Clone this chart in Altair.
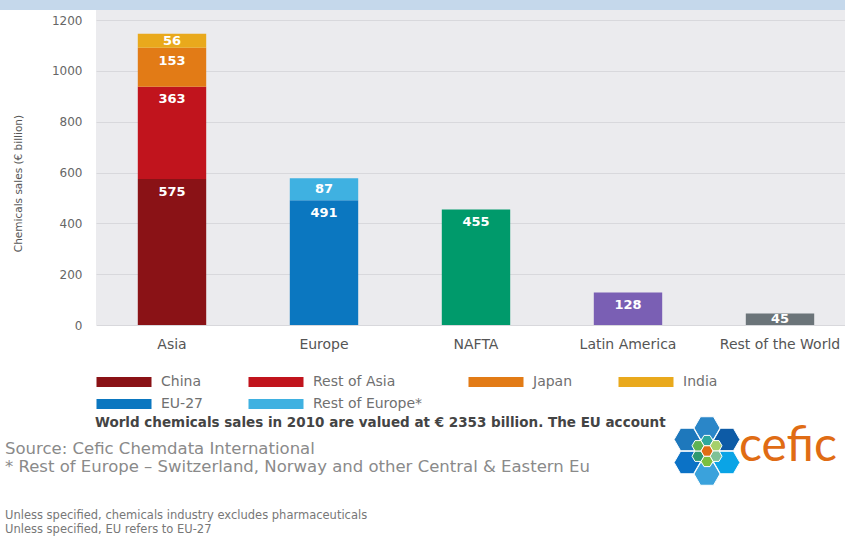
import math
import altair as alt
import pandas as pd

# ---------------- data ----------------
regions = ["Asia", "Europe", "NAFTA", "Latin America", "Rest of the World"]

stack_regions = ["Asia", "Asia", "Asia", "Asia", "Europe", "Europe"]
stack_series = ["China", "Rest of Asia", "Japan", "India", "EU-27", "Rest of Europe*"]
stack_values = [575, 363, 153, 56, 491, 87]
stack_colors = ["#8a1216", "#c1141d", "#e27b16", "#e9a91c", "#0b77c0", "#3fb1e1"]

single_regions = ["NAFTA", "Latin America", "Rest of the World"]
single_values = [455, 128, 45]
single_colors = ["#009a6b", "#7a5fb4", "#6b7479"]

y_ticks = [0, 200, 400, 600, 800, 1000, 1200]

note_line = "World chemicals sales in 2010 are valued at € 2353 billion. The EU account"
source_lines = ["Source: Cefic Chemdata International",
                "* Rest of Europe – Switzerland, Norway and other Central & Eastern Eu"]
foot_lines = ["Unless specified, chemicals industry excludes pharmaceuticals",
              "Unless specified, EU refers to EU-27"]

# ---------------- tables ----------------
rows = []
cum = {}
for r, s, v in zip(stack_regions, stack_series, stack_values):
    start = cum.get(r, 0)
    end = start + v
    cum[r] = end
    rows.append(dict(region=r, series=s, value=v, start=start, end=end))
stack_df = pd.DataFrame(rows)

single_df = pd.DataFrame(dict(region=single_regions, series=single_regions,
                              value=single_values))
single_df["start"] = 0
single_df["end"] = single_df["value"]

labels_df = pd.concat([stack_df, single_df], ignore_index=True)
labels_df["label_y"] = labels_df["end"] - (labels_df["value"] / 2).clip(upper=50)

FONT = "DejaVu Sans"
W, H = 749, 315

xscale = alt.Scale(domain=regions, range=[0, 760], paddingInner=0.55, paddingOuter=0.275)
yscale = alt.Scale(domain=[0, 1240], nice=False)

xenc = alt.X("region:N", scale=xscale, sort=regions, title=None,
             axis=alt.Axis(labelFont=FONT, labelFontSize=14, labelColor="#555555",
                           labelPadding=12, domain=False, ticks=False, labelAngle=0,
                           labelLimit=220))

yaxis = alt.Axis(values=y_ticks, format="d", labelFont=FONT, labelFontSize=12,
                 labelColor="#666666", labelPadding=14, domain=False, ticks=False,
                 gridColor="#d8d8dc", gridWidth=1,
                 title="Chemicals sales (€ billion)", titleFont=FONT, titleFontSize=10.5,
                 titleFontWeight="normal", titleColor="#555555",
                 titleX=-78, titleY=173, titleAngle=-90, titleAlign="center",
                 titleBaseline="middle")

stack_bars = alt.Chart(stack_df).mark_bar().encode(
    x=xenc,
    y=alt.Y("start:Q", scale=yscale, axis=yaxis),
    y2="end:Q",
    color=alt.Color("series:N", sort=stack_series,
                    scale=alt.Scale(domain=stack_series, range=stack_colors),
                    legend=alt.Legend(
                        title=None, orient="none", direction="horizontal",
                        legendX=21, legendY=365,
                        columns=4, columnPadding=45, rowPadding=8,
                        symbolType="M-5,-0.9L5,-0.9L5,0.9L-5,0.9Z",
                        symbolSize=121, symbolStrokeWidth=0, symbolOpacity=1,
                        labelFont=FONT, labelFontSize=14, labelColor="#707070",
                        labelOffset=30, labelLimit=220)),
)

single_bars = alt.Chart(single_df).mark_bar().encode(
    x=alt.X("region:N", scale=xscale, sort=regions),
    y=alt.Y("start:Q", scale=yscale),
    y2="end:Q",
    color=alt.Color("series:N", scale=alt.Scale(domain=single_regions, range=single_colors),
                    legend=None),
)

bar_labels = alt.Chart(labels_df).mark_text(
    font=FONT, fontSize=13, fontWeight="bold", color="white", baseline="middle"
).encode(
    x=alt.X("region:N", scale=xscale, sort=regions),
    y=alt.Y("label_y:Q", scale=yscale),
    text="value:Q",
)

one = pd.DataFrame({"a": [0]})

top_band = alt.Chart(one).mark_rect(color="#c5d8eb").encode(
    x=alt.value(-96), x2=alt.value(W), y=alt.value(-10), y2=alt.value(0))


def txt(s, x, y, size, color, weight="normal", font=FONT):
    return alt.Chart(one).mark_text(
        text=s, align="left", baseline="middle", font=font, fontSize=size,
        color=color, fontWeight=weight
    ).encode(x=alt.value(x), y=alt.value(y))


texts = [
    txt(note_line, -1, 413, 13.5, "#444444", "bold"),
    txt(source_lines[0], -91, 439, 16.5, "#8a8a8a"),
    txt(source_lines[1], -91, 457, 16.5, "#8a8a8a"),
    txt(foot_lines[0], -91, 506, 11.5, "#777777"),
    txt(foot_lines[1], -91, 520, 11.5, "#777777"),
    txt("cefic", 643, 437, 48, "#e06c14", "normal", "Lato"),
]

# ---------------- decorative logo (hexagon cluster) ----------------
hexpath = "M-1,0L-0.5,-0.866L0.5,-0.866L1,0L0.5,0.866L-0.5,0.866Z"
cx, cy = 611, 441
outer_cols = ["#2a86c8", "#0d5ba6", "#0aa4e6", "#3aa2dc", "#0b72c6", "#1e78bc"]
inner_cols = ["#2ea89c", "#a5d06b", "#7fc197", "#7bbf3f", "#2f9970", "#5fb254"]
hex_rows = []
for i in range(6):
    ang = math.radians(90 - 60 * i)  # top, then clockwise
    hex_rows.append(dict(px=cx + 23 * math.cos(ang), py=cy - 23 * math.sin(ang),
                         c=outer_cols[i], s=676))
for i in range(6):
    ang = math.radians(90 - 60 * i)
    hex_rows.append(dict(px=cx + 10.4 * math.cos(ang), py=cy - 10.4 * math.sin(ang),
                         c=inner_cols[i], s=144))
hex_rows.append(dict(px=cx, py=cy, c="#e06c14", s=144))
hex_df = pd.DataFrame(hex_rows)

logo_bg = alt.Chart(one).mark_rect(color="white").encode(
    x=alt.value(580), x2=alt.value(W), y=alt.value(407), y2=alt.value(476))

logo = alt.Chart(hex_df).mark_point(shape=hexpath, filled=True, opacity=1,
                                     stroke="white", strokeWidth=1).encode(
    x=alt.X("px:Q", scale=None, axis=None),
    y=alt.Y("py:Q", scale=None, axis=None),
    color=alt.Color("c:N", scale=None, legend=None),
    size=alt.Size("s:Q", scale=None, legend=None),
)

chart = alt.layer(
    top_band, stack_bars, single_bars, bar_labels, *texts[:-1], logo_bg, texts[-1], logo
).resolve_scale(color="independent").properties(
    width=W, height=H,
    autosize=alt.AutoSizeParams(type="none"),
    padding={"left": 96, "top": 10, "right": 0, "bottom": 212},
    background="white",
).configure_view(fill="#ebebee", stroke=None)

chart.save("out.html", embed_options={"renderer": "svg", "actions": False})
